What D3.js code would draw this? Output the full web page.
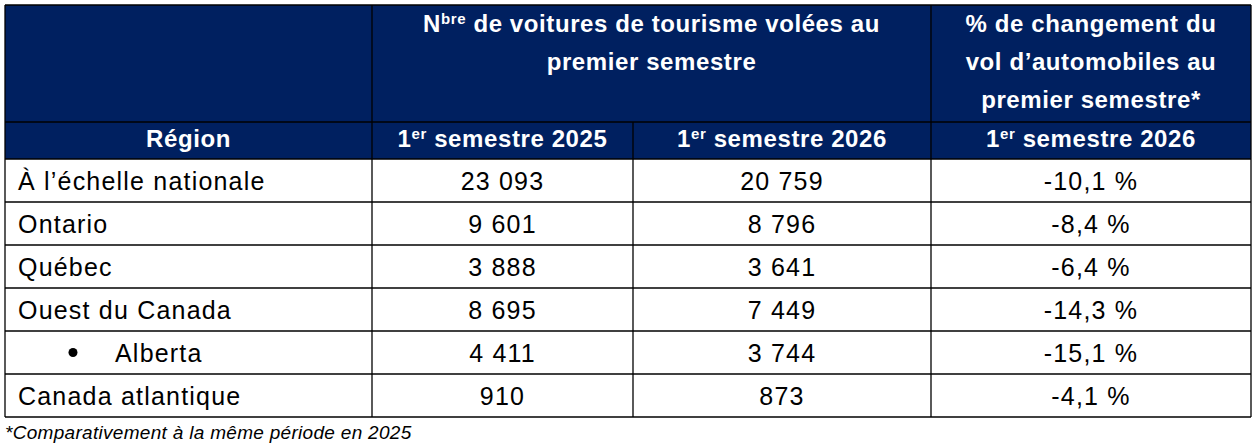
<!DOCTYPE html>
<html><head><meta charset="utf-8">
<script src="https://cdn.jsdelivr.net/npm/d3@7"></script>
<style>body{margin:0;background:#fff}</style>
</head><body><div id="tbl"></div>
<script>
// table data
var regions = ["À l’échelle nationale", "Ontario", "Québec", "Ouest du Canada", "Alberta", "Canada atlantique"];
var bullet = [false, false, false, false, true, false];
var h1Values = ["23 093", "9 601", "3 888", "8 695", "4 411", "910"];
var h2Values = ["20 759", "8 796", "3 641", "7 449", "3 744", "873"];
var pctValues = ["-10,1 %", "-8,4 %", "-6,4 %", "-14,3 %", "-15,1 %", "-4,1 %"];
var footnote = "*Comparativement à la même période en 2025";

var svg = d3.select("#tbl").append("svg").attr("width", 1254).attr("height", 447);
var font = "'Liberation Sans', Arial, sans-serif";
var navy = "#002060";
var colX = [5, 372, 633, 931, 1251];
var rowY = d3.scaleBand().domain(d3.range(regions.length)).range([159, 417]);

// header background
svg.append("rect").attr("x", 5).attr("y", 5).attr("width", 1246).attr("height", 154).attr("fill", navy);

function hText(x, y, parts) {
  var t = svg.append("text").attr("x", x).attr("y", y).attr("text-anchor", "middle")
    .attr("fill", "#fff").attr("font-family", font).attr("font-weight", "bold").attr("font-size", 24)
    .attr("letter-spacing", 0.6);
  parts.forEach(function(p) {
    var ts = t.append("tspan").text(p[0]);
    if (p[1]) ts.attr("font-size", 15).attr("baseline-shift", "8");
  });
}
hText((colX[1] + colX[3]) / 2, 32, [["N"], ["bre", 1], [" de voitures de tourisme volées au"]]);
hText((colX[1] + colX[3]) / 2, 70, [["premier semestre"]]);
hText((colX[3] + colX[4]) / 2, 32, [["% de changement du"]]);
hText((colX[3] + colX[4]) / 2, 70, [["vol d’automobiles au"]]);
hText((colX[3] + colX[4]) / 2, 108, [["premier semestre*"]]);
hText((colX[0] + colX[1]) / 2, 147, [["Région"]]);
hText((colX[1] + colX[2]) / 2, 147, [["1"], ["er", 1], [" semestre 2025"]]);
hText((colX[2] + colX[3]) / 2, 147, [["1"], ["er", 1], [" semestre 2026"]]);
hText((colX[3] + colX[4]) / 2, 147, [["1"], ["er", 1], [" semestre 2026"]]);

// body cells
var rows = svg.selectAll("g.row").data(regions).enter().append("g")
  .attr("transform", (d, i) => `translate(0, ${rowY(i) + rowY.bandwidth() / 2 + 9})`)
  .attr("font-family", font).attr("font-size", 25).attr("letter-spacing", 1.2).attr("fill", "#000");
rows.append("text").attr("x", (d, i) => bullet[i] ? 115 : 18).text(d => d);
rows.filter((d, i) => bullet[i]).append("circle").attr("cx", 73).attr("cy", -9).attr("r", 4.5);
rows.append("text").attr("x", (colX[1] + colX[2]) / 2).attr("text-anchor", "middle").text((d, i) => h1Values[i]);
rows.append("text").attr("x", (colX[2] + colX[3]) / 2).attr("text-anchor", "middle").text((d, i) => h2Values[i]);
rows.append("text").attr("x", (colX[3] + colX[4]) / 2).attr("text-anchor", "middle").text((d, i) => pctValues[i]);

// grid lines
var lines = svg.append("g").attr("stroke", "#000").attr("stroke-width", 1.3);
[122, 159].concat(regions.map((d, i) => rowY(i) + rowY.bandwidth())).forEach(function(y) {
  lines.append("line").attr("x1", 5).attr("x2", 1251).attr("y1", y).attr("y2", y);
});
lines.append("line").attr("x1", 5).attr("x2", 1251).attr("y1", 5).attr("y2", 5);
colX.forEach(function(x, j) {
  var y0 = (j === 2) ? 122 : 5;
  lines.append("line").attr("x1", x).attr("x2", x).attr("y1", y0).attr("y2", 417);
});

svg.append("text").attr("x", 5).attr("y", 439).attr("font-family", font).attr("font-style", "italic")
  .attr("font-size", 19).attr("letter-spacing", 0.3).text(footnote);
</script></body></html>
